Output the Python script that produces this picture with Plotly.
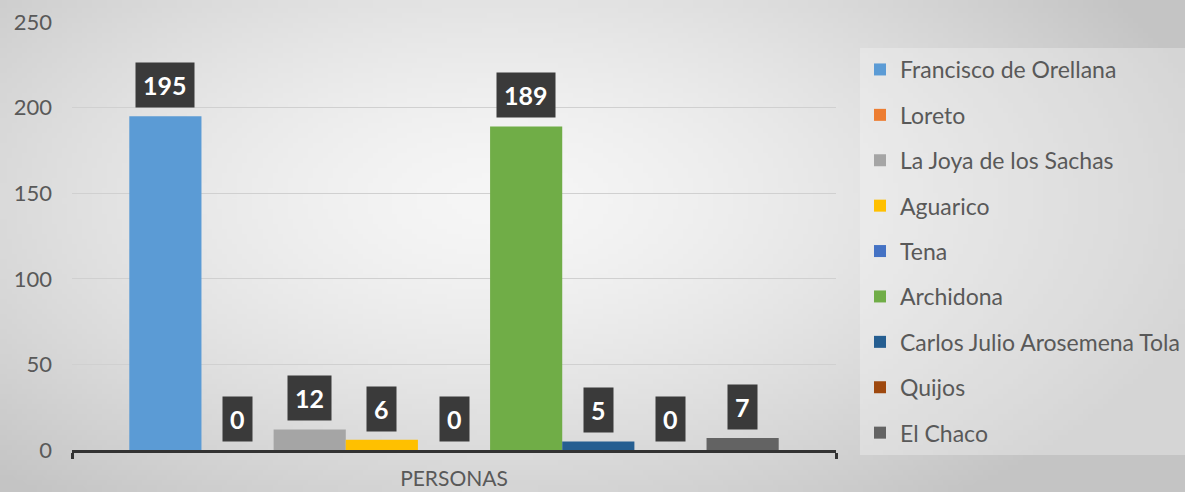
import base64, struct, zlib
import numpy as np
import plotly.graph_objects as go

# ---- data ----
category = ["PERSONAS"]
series_names = ["Francisco de Orellana", "Loreto", "La Joya de los Sachas", "Aguarico",
                "Tena", "Archidona", "Carlos Julio Arosemena Tola", "Quijos", "El Chaco"]
values = [195, 0, 12, 6, 0, 189, 5, 0, 7]
colors = ["#5B9BD5", "#ED7D31", "#A5A5A5", "#FFC000", "#4472C4",
          "#70AD47", "#255E91", "#9E480E", "#636363"]

W, H = 1185, 492
ML, MR, MT, MB = 72, 349, 22, 42
BARGAP = 0.15

# ---- radial gradient background image (style only) ----
def gradient_png(w, h):
    yy, xx = np.mgrid[0:h, 0:w].astype(float)
    cx, cy = 0.42 * w, 0.40 * h
    d = np.sqrt(((xx - cx) / (0.62 * w)) ** 2 + ((yy - cy) / (0.78 * h)) ** 2)
    d = np.clip(d, 0, 1)
    c0, c1 = 246.0, 196.0
    v = (c0 + (c1 - c0) * d ** 1.5).astype(np.uint8)
    raw = b"".join(b"\x00" + bytes(np.repeat(row, 3)) for row in v)
    def chunk(t, data):
        c = struct.pack(">I", len(data)) + t + data
        return c + struct.pack(">I", zlib.crc32(t + data) & 0xffffffff)
    png = b"\x89PNG\r\n\x1a\n" + chunk(b"IHDR", struct.pack(">IIBBBBB", w, h, 8, 2, 0, 0, 0)) \
        + chunk(b"IDAT", zlib.compress(raw, 9)) + chunk(b"IEND", b"")
    return "data:image/png;base64," + base64.b64encode(png).decode()

fig = go.Figure()
for name, val, col in zip(series_names, values, colors):
    fig.add_trace(go.Bar(x=category, y=[val], name=name, marker_color=col,
                         marker_line_width=0, legendgroup=name))

# data label boxes
n = len(values)
group_w = 1 - BARGAP
for i, val in enumerate(values):
    xc = -group_w / 2 + (i + 0.5) * group_w / n
    fig.add_annotation(x=xc, y=val, xref="x", yref="y", text="<b>%d</b>" % val,
                       showarrow=False, yanchor="bottom", yshift=8,
                       font=dict(family="Lato", size=25, color="white"),
                       bgcolor="#3a3a3a", borderpad=7)

fig.add_layout_image(dict(source=gradient_png(237, 98), xref="paper", yref="paper",
                          x=-ML / (W - ML - MR), y=1 + MT / (H - MT - MB),
                          sizex=W / (W - ML - MR), sizey=H / (H - MT - MB),
                          xanchor="left", yanchor="top", sizing="stretch", layer="below"))

fig.update_layout(
    width=W, height=H,
    margin=dict(l=ML, r=MR, t=MT, b=MB, autoexpand=False),
    paper_bgcolor="#d8d8d8", plot_bgcolor="rgba(0,0,0,0)",
    barmode="group", bargap=BARGAP, bargroupgap=0,
    font=dict(family="Lato", color="#595959"),
    showlegend=True,
    legend=dict(x=(860 - ML) / (W - ML - MR), y=(H - MB - 48) / (H - MT - MB),
                xanchor="left", yanchor="top", bgcolor="rgba(245,245,245,0.35)",
                font=dict(family="Lato", size=23, color="#595959"),
                traceorder="grouped", tracegroupgap=12.5, itemwidth=30,
                borderwidth=0),
    xaxis=dict(showline=True, linecolor="#333333", linewidth=3, ticks="outside",
               tickson="boundaries", ticklen=6, tickwidth=3, tickcolor="#333333",
               showgrid=False, tickfont=dict(family="Lato", size=21, color="#595959"),
               ticklabelstandoff=8, automargin=False),
    yaxis=dict(range=[0, 250], dtick=50, showgrid=True, gridcolor="#d0d0d0", gridwidth=1,
               zeroline=False, showline=False, ticks="",
               tickfont=dict(family="Lato", size=22, color="#595959"),
               ticklabelstandoff=19, automargin=False),
)

fig.write_html("out.html", config={"displayModeBar": False},
               post_script="document.body.style.margin='0';document.body.style.padding='0';")
